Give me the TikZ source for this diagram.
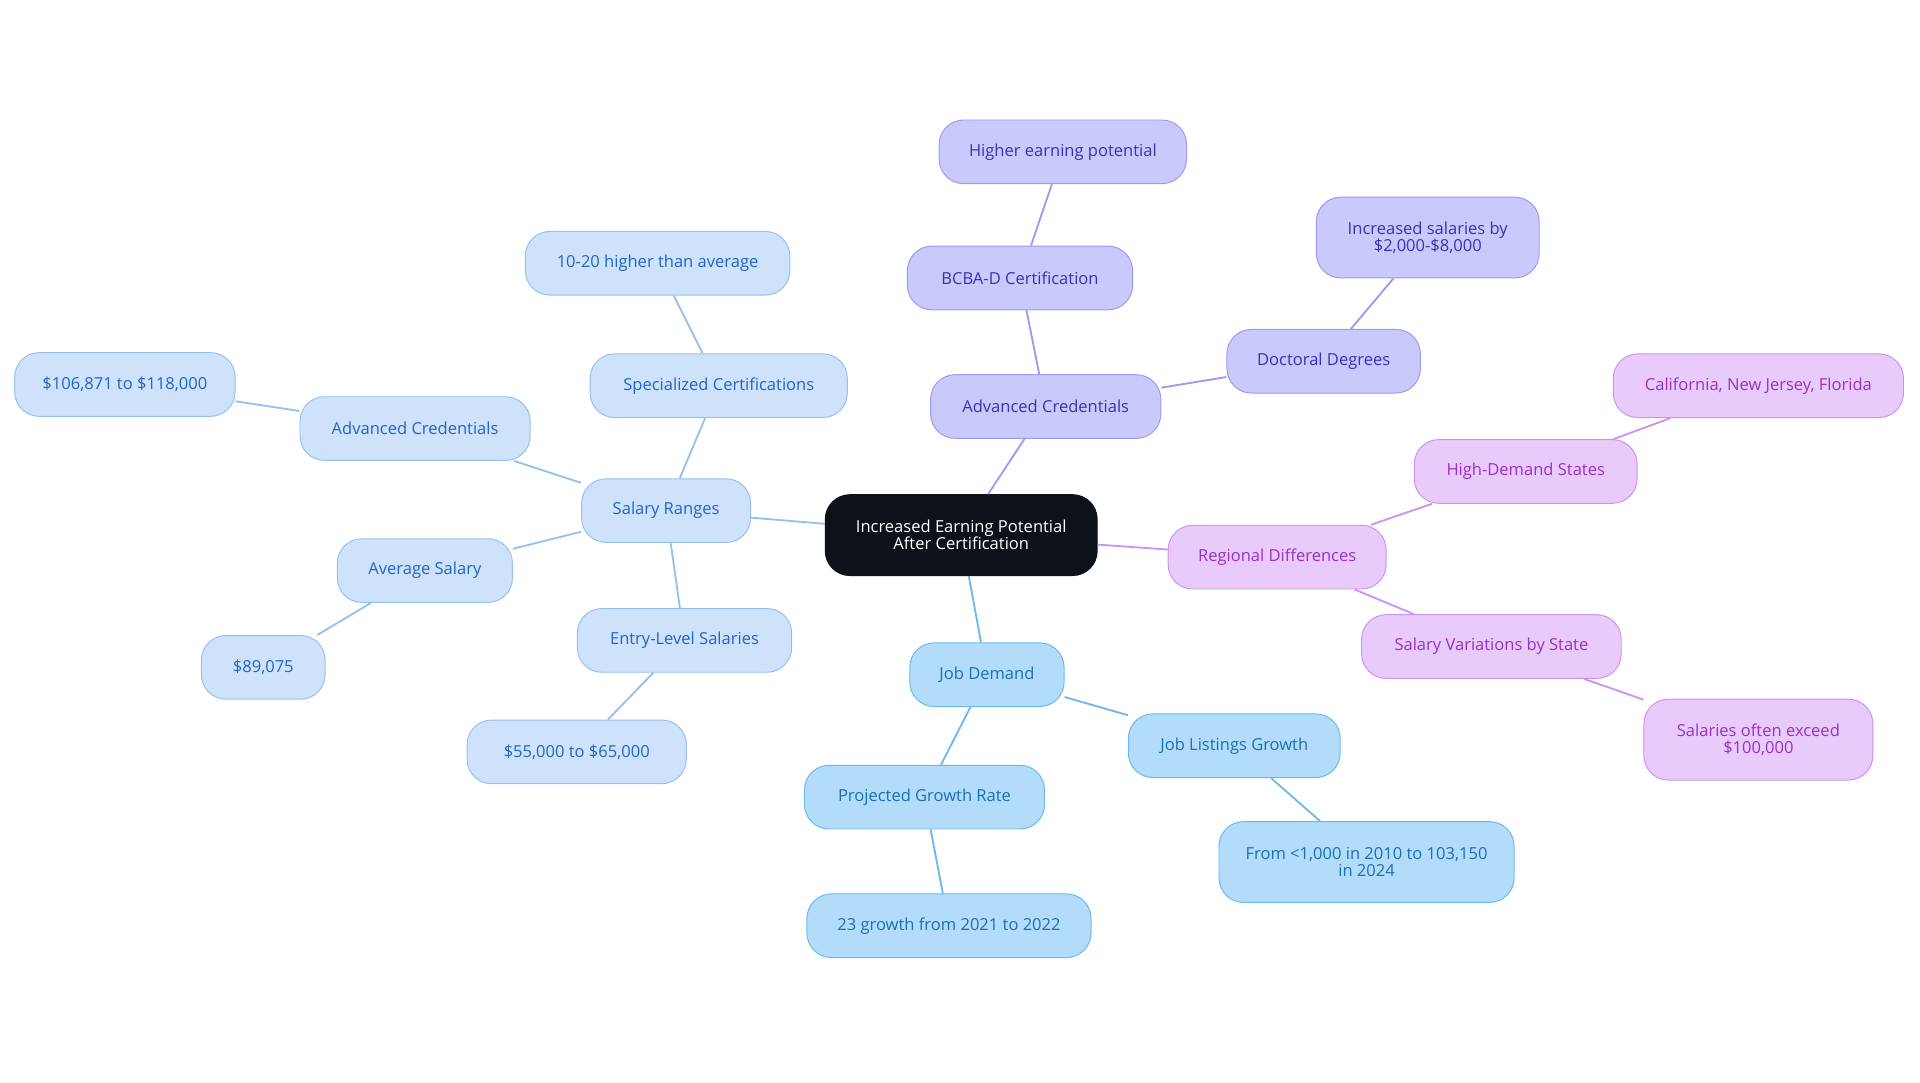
\documentclass[tikz,border=0pt]{standalone}
\usepackage{fontspec}
\setmainfont{Open Sans}
\definecolor{bF}{HTML}{CFE2FB}\definecolor{bD}{HTML}{94C0F0}\definecolor{bT}{HTML}{1E66C8}
\definecolor{pF}{HTML}{CAC9FB}\definecolor{pD}{HTML}{9E99F0}\definecolor{pT}{HTML}{3B30B8}
\definecolor{mF}{HTML}{E8CBFB}\definecolor{mD}{HTML}{CC92F0}\definecolor{mT}{HTML}{9A30C8}
\definecolor{cF}{HTML}{B3DCFB}\definecolor{cD}{HTML}{6CB8EE}\definecolor{cT}{HTML}{1A70B8}
\definecolor{kF}{HTML}{0C111A}
\tikzset{
 bx/.style={rounded corners=20pt,minimum height=52pt,align=center,font=\fontsize{13.5}{14}\selectfont,inner sep=2pt,line width=0.8pt},
 bb/.style={bx,fill=bF,draw=bD,text=bT},
 pp/.style={bx,fill=pF,draw=pD,text=pT},
 mm/.style={bx,fill=mF,draw=mD,text=mT},
 cc/.style={bx,fill=cF,draw=cD,text=cT},
 lb/.style={draw=bD,line width=1.5pt},
 lp/.style={draw=pD,line width=1.5pt},
 lm/.style={draw=mD,line width=1.5pt},
 lc/.style={draw=cD,line width=1.5pt},
}
\begin{document}
\begin{tikzpicture}[x=1pt,y=-1pt]
\useasboundingbox (0,0) rectangle (1568,884);
\node[bx,fill=kF,draw=kF,text=white,minimum width=222pt,minimum height=66pt] (c) at (785,437) {Increased Earning Potential\\After Certification};
\node[bb,minimum width=138pt] (sr) at (544,417) {Salary Ranges};
\node[bb,minimum width=210pt] (sc) at (587,315) {Specialized Certifications};
\node[bb,minimum width=216pt] (hi) at (537,215) {10-20 higher than average};
\node[bb,minimum width=188pt] (al) at (339,350) {Advanced Credentials};
\node[bb,minimum width=180pt] (s1) at (102,314) {\$106,871 to \$118,000};
\node[bb,minimum width=143pt] (av) at (347,466) {Average Salary};
\node[bb,minimum width=101pt] (s2) at (215,545) {\$89,075};
\node[bb,minimum width=175pt] (el) at (559,523) {Entry-Level Salaries};
\node[bb,minimum width=179pt] (s3) at (471,614) {\$55,000 to \$65,000};
\node[cc,minimum width=126pt] (jd) at (806,551) {Job Demand};
\node[cc,minimum width=196pt] (pg) at (755,651) {Projected Growth Rate};
\node[cc,minimum width=232pt] (g2) at (775,756) {23 growth from 2021 to 2022};
\node[cc,minimum width=173pt] (jl) at (1008,609) {Job Listings Growth};
\node[cc,minimum width=241pt,minimum height=66pt] (fr) at (1116,704) {From <1,000 in 2010 to 103,150\\in 2024};
\node[pp,minimum width=188pt] (ar) at (854,332) {Advanced Credentials};
\node[pp,minimum width=184pt] (bc) at (833,227) {BCBA-D Certification};
\node[pp,minimum width=202pt] (he) at (868,124) {Higher earning potential};
\node[pp,minimum width=158pt] (dd) at (1081,295) {Doctoral Degrees};
\node[pp,minimum width=182pt,minimum height=66pt] (is) at (1166,194) {Increased salaries by\\\$2,000-\$8,000};
\node[mm,minimum width=178pt] (rd) at (1043,455) {Regional Differences};
\node[mm,minimum width=182pt] (hd) at (1246,385) {High-Demand States};
\node[mm,minimum width=237pt] (ca) at (1436,315) {California, New Jersey, Florida};
\node[mm,minimum width=212pt] (sv) at (1218,528) {Salary Variations by State};
\node[mm,minimum width=187pt,minimum height=66pt] (se) at (1436,604) {Salaries often exceed\\\$100,000};
\begin{scope}[on background layer/.style={}]
\end{scope}
\draw[lb] (c) -- (sr); \draw[lb] (sr) -- (sc); \draw[lb] (sc) -- (hi);
\draw[lb] (sr) -- (al); \draw[lb] (al) -- (s1); \draw[lb] (sr) -- (av);
\draw[lb] (av) -- (s2); \draw[lb] (sr) -- (el); \draw[lb] (el) -- (s3);
\draw[lc] (c) -- (jd); \draw[lc] (jd) -- (pg); \draw[lc] (pg) -- (g2);
\draw[lc] (jd) -- (jl); \draw[lc] (jl) -- (fr);
\draw[lp] (c) -- (ar); \draw[lp] (ar) -- (bc); \draw[lp] (bc) -- (he);
\draw[lp] (ar) -- (dd); \draw[lp] (dd) -- (is);
\draw[lm] (c) -- (rd); \draw[lm] (rd) -- (hd); \draw[lm] (hd) -- (ca);
\draw[lm] (rd) -- (sv); \draw[lm] (sv) -- (se);
\end{tikzpicture}
\end{document}
